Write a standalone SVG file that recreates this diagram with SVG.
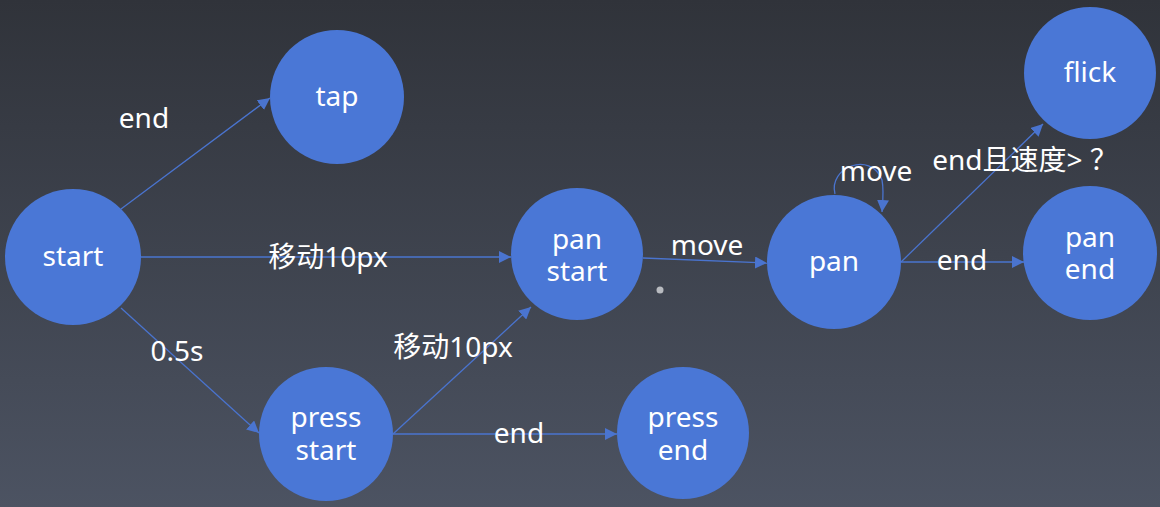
<svg xmlns="http://www.w3.org/2000/svg" width="1160" height="507" viewBox="0 0 1160 507">
  <defs>
    <linearGradient id="bg" x1="0" y1="0" x2="0" y2="1">
      <stop offset="0" stop-color="#30333a"/>
      <stop offset="1" stop-color="#4c5362"/>
    </linearGradient>
    <marker id="arr" viewBox="0 0 10 10" refX="10" refY="5" markerWidth="12" markerHeight="12" markerUnits="userSpaceOnUse" orient="auto">
      <path d="M0,0 L10,5 L0,10 z" fill="#4a74cf"/>
    </marker>
  </defs>
  <style>
    .node { fill: #4a77d6; }
    .lbl { fill: #ffffff; font-family: "Noto Sans", "Noto Sans CJK SC", sans-serif; font-size: 28px; text-anchor: middle; dominant-baseline: central; }
    .edge { stroke: #4a74cf; stroke-width: 1.3; fill: none; marker-end: url(#arr); }
  </style>
  <rect width="1160" height="507" fill="url(#bg)"/>
  <circle cx="660" cy="290" r="3.5" fill="#b8bbc0"/>

  <g id="connectors">
    <line class="edge" x1="121" y1="209" x2="270" y2="98"/>
    <line class="edge" x1="141" y1="257" x2="511" y2="257"/>
    <line class="edge" x1="121" y1="308" x2="259" y2="433"/>
    <line class="edge" x1="393" y1="434" x2="531" y2="307"/>
    <line class="edge" x1="393" y1="434" x2="617" y2="434"/>
    <line class="edge" x1="643" y1="258" x2="767" y2="263"/>
    <line class="edge" x1="901" y1="262" x2="1024" y2="262"/>
    <line class="edge" x1="901" y1="262" x2="1043" y2="124"/>
    <path class="edge" d="M835,194 C828,168 870,150 882,180 C884,190 883,200 882,212"/>
  </g>

  <g id="labels">
    <text class="lbl" x="144" y="117">end</text>
    <text class="lbl" x="328" y="256">移动10px</text>
    <text class="lbl" x="177" y="350">0.5s</text>
    <text class="lbl" x="453" y="346">移动10px</text>
    <text class="lbl" x="519" y="432">end</text>
    <text class="lbl" x="707" y="244">move</text>
    <text class="lbl" x="876" y="170">move</text>
    <text class="lbl" x="1025" y="159">end且速度&gt; ？</text>
    <text class="lbl" x="962" y="259">end</text>
  </g>

  <g id="start"><circle class="node" cx="73" cy="257" r="68"/><text class="lbl" x="73" y="255">start</text></g>
  <g id="tap"><circle class="node" cx="337" cy="97" r="67"/><text class="lbl" x="337" y="95">tap</text></g>
  <g id="pan-start"><circle class="node" cx="577" cy="254" r="66"/><text class="lbl" x="577" y="238">pan<tspan x="577" dy="32">start</tspan></text></g>
  <g id="pan"><circle class="node" cx="834" cy="262" r="67"/><text class="lbl" x="834" y="260">pan</text></g>
  <g id="flick"><circle class="node" cx="1090" cy="73" r="66"/><text class="lbl" x="1090" y="71">flick</text></g>
  <g id="pan-end"><circle class="node" cx="1090" cy="253" r="67"/><text class="lbl" x="1090" y="236">pan<tspan x="1090" dy="32">end</tspan></text></g>
  <g id="press-start"><circle class="node" cx="326" cy="434" r="67"/><text class="lbl" x="326" y="416">press<tspan x="326" dy="33">start</tspan></text></g>
  <g id="press-end"><circle class="node" cx="683" cy="433" r="66"/><text class="lbl" x="683" y="416">press<tspan x="683" dy="33">end</tspan></text></g>
</svg>
